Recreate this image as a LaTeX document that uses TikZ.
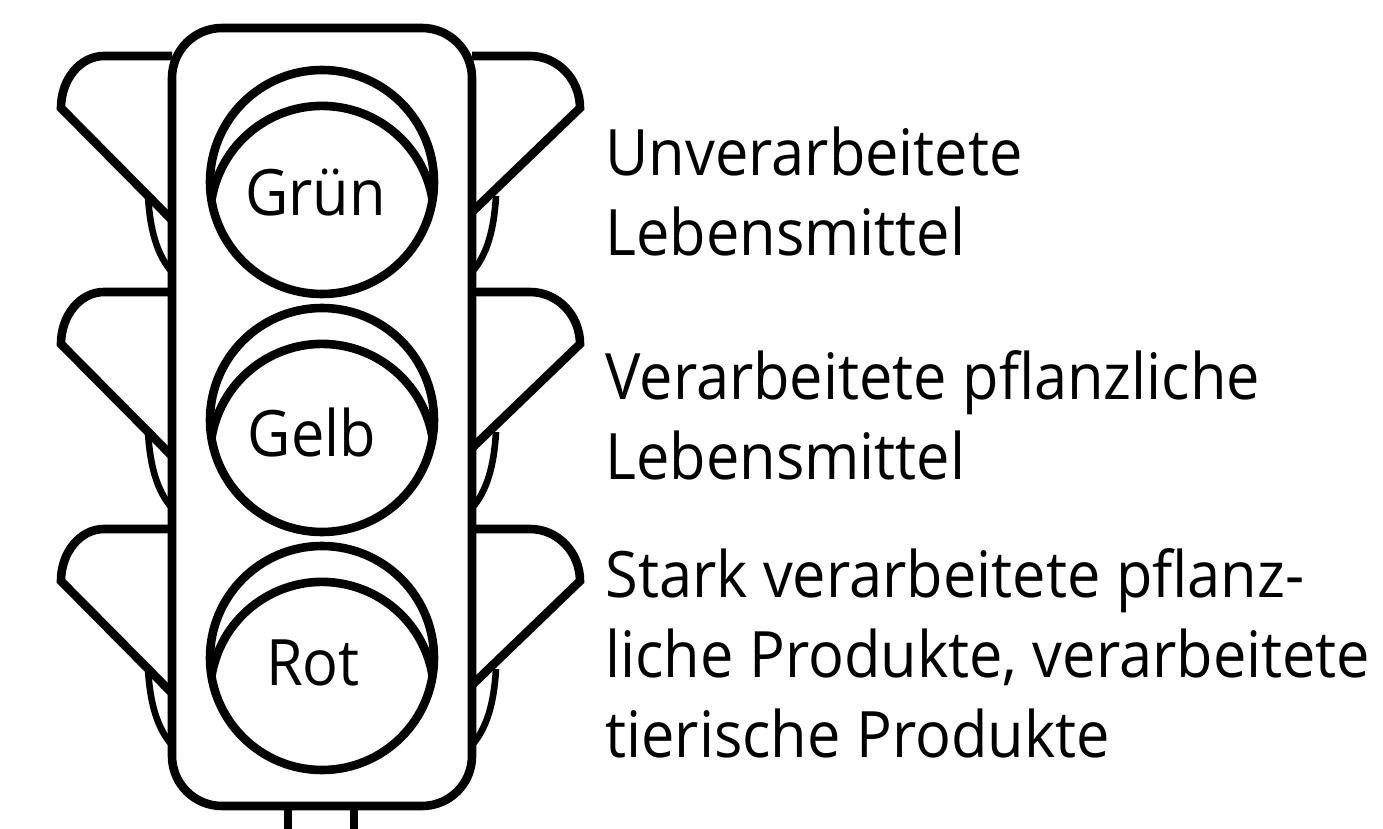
\documentclass[tikz,border=0pt]{standalone}
\usepackage{fontspec}
\setmainfont[FakeStretch=0.93]{Open Sans}
\tikzset{lamp/.style={line width=4.3pt},
  mount/.style={line width=3.3pt},
  lampname/.style={anchor=base,font=\fontsize{32}{40}\selectfont,inner sep=0pt},
  caption/.style={anchor=base west,align=left,font=\fontsize{32}{40}\selectfont,inner sep=0pt}}

\begin{document}
\begin{tikzpicture}[x=0.5pt,y=0.5pt]
      \useasboundingbox (0, 0) rectangle (1383, -829);

      % side shields and the three lamps
      \foreach \dy/\lampy/\visory in {0/-182/-200, -236/-420/-438, -473/-658/-676} {
        \begin{scope}[yshift=\dy*0.5pt]
          \draw [lamp] (172, -56) -- (104, -56) arc[start angle=90, end angle=180, x radius=43, y radius=52] -- (172, -220);
          \draw [lamp] (472, -56) -- (530, -56) arc[start angle=90, end angle=0, x radius=50, y radius=52] -- (472, -212);
          \draw [mount] (148, -196) .. controls (150, -230) and (157, -255) .. (172, -272);
          \draw [mount] (496, -196) .. controls (494, -230) and (487, -255) .. (472, -272);
        \end{scope}
        \draw [lamp] (322, \lampy) circle (112);
        \draw [lamp] (211.5, \visory) arc(170.8:9.2:112);
      }

      % housing and pole
      \draw [lamp, rounded corners=25pt] (172, -28) rectangle (472, -806);
      \draw [lamp] (288, -806) -- (288, -829);
      \draw [lamp] (354, -806) -- (354, -829);

      \node [lampname] (gruen) at (315.5, -215) {Grün};
      \node [lampname] (gelb) at (312, -456) {Gelb};
      \node [lampname] (rot) at (313, -685) {Rot};

      \node [caption] (unverarbeitet) at (605, -256) {Unverarbeitete\\Lebensmittel};
      \node [caption] (verarbeitet) at (605, -479) {Verarbeitete pflanzliche\\Lebensmittel};
      \node [caption] (stark) at (605, -757) {Stark verarbeitete pflanz-\\liche Produkte, verarbeitete\\tierische Produkte};
\end{tikzpicture}
\end{document}
